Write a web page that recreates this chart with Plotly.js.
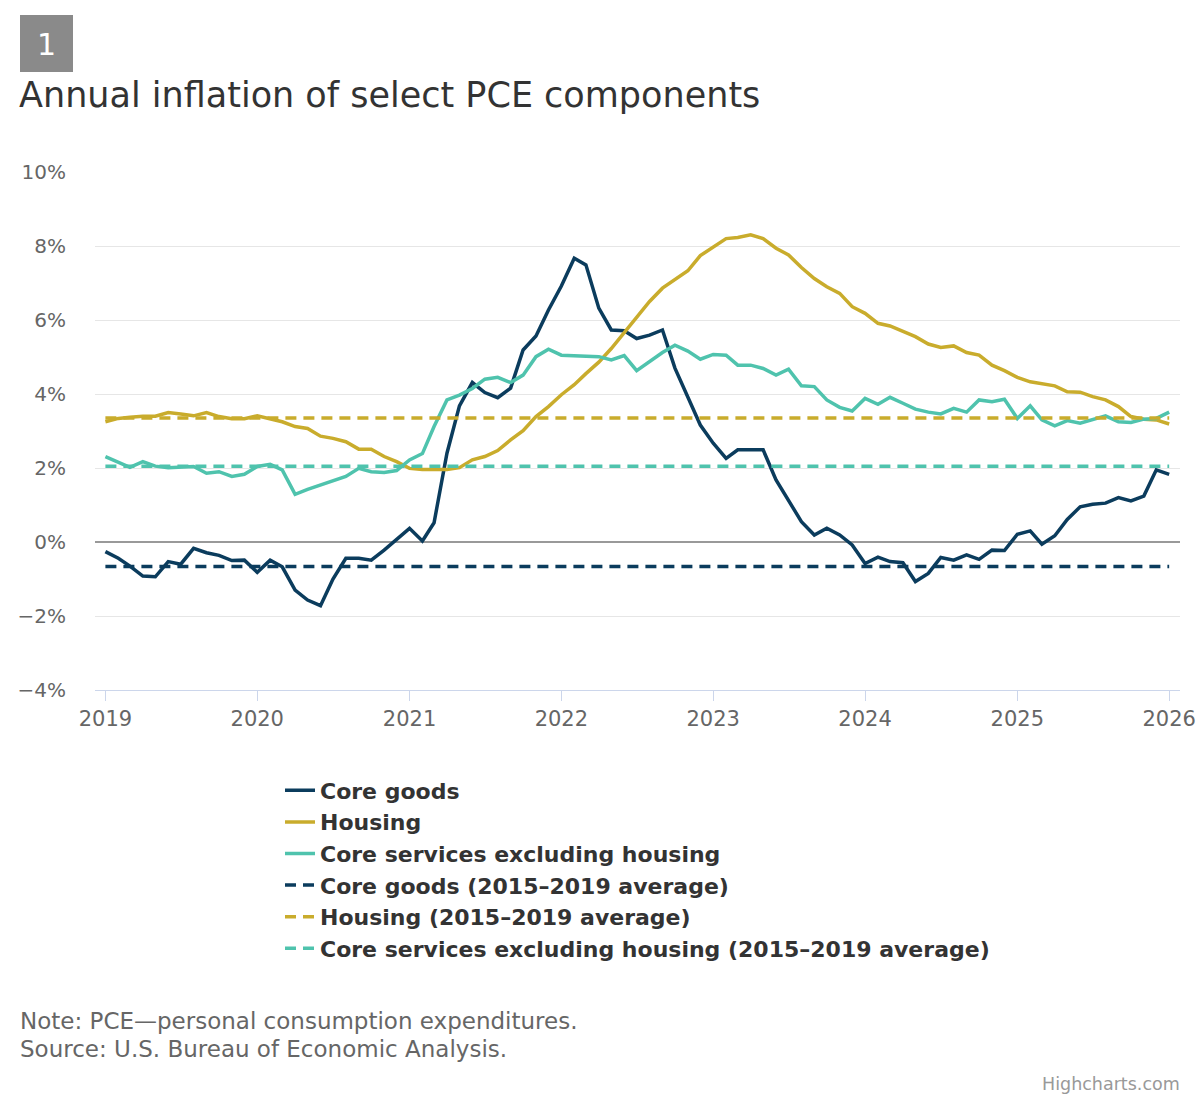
<!DOCTYPE html>
<html>
<head>
<meta charset="utf-8">
<script src="https://cdn.plot.ly/plotly-3.0.1.min.js"></script>
<style>html,body{margin:0;padding:0;background:#fff;}#chart{width:1200px;height:1100px;}</style>
</head>
<body>
<div id="chart"></div>
<script>
// Monthly observations, Jan 2019 – Jan 2026
const startYear = 2019;
const monthCount = 85;
const months = [];
for (let i = 0; i < monthCount; i++) {
  const y = startYear + Math.floor(i / 12);
  const m = (i % 12) + 1;
  months.push(y + '-' + (m < 10 ? '0' + m : m) + '-01');
}

const coreGoods = [
  -0.26, -0.44, -0.65, -0.92, -0.94, -0.53, -0.60, -0.17, -0.29, -0.36, -0.50, -0.49,
  -0.82, -0.49, -0.67, -1.30, -1.57, -1.72, -1.00, -0.44, -0.44, -0.49, -0.22, 0.07,
  0.37, 0.03, 0.52, 2.40, 3.68, 4.31, 4.04, 3.90, 4.16, 5.19, 5.57, 6.27,
  6.92, 7.67, 7.49, 6.32, 5.73, 5.71, 5.50, 5.59, 5.73, 4.70, 3.89, 3.16,
  2.67, 2.26, 2.49, 2.49, 2.49, 1.68, 1.14, 0.55, 0.19, 0.37, 0.19, -0.08,
  -0.58, -0.41, -0.53, -0.56, -1.07, -0.85, -0.42, -0.49, -0.35, -0.47, -0.22, -0.23,
  0.21, 0.30, -0.06, 0.17, 0.61, 0.95, 1.02, 1.05, 1.20, 1.11, 1.24, 1.95,
  1.83
];

const housing = [
  3.25, 3.34, 3.37, 3.40, 3.40, 3.50, 3.46, 3.41, 3.50, 3.39, 3.33, 3.33,
  3.41, 3.32, 3.25, 3.12, 3.07, 2.86, 2.80, 2.71, 2.51, 2.51, 2.31, 2.17,
  1.99, 1.96, 1.95, 1.96, 2.01, 2.22, 2.31, 2.47, 2.76, 3.01, 3.39, 3.66,
  3.98, 4.25, 4.55, 4.86, 5.23, 5.66, 6.09, 6.50, 6.86, 7.08, 7.33, 7.74,
  7.98, 8.20, 8.23, 8.30, 8.20, 7.94, 7.76, 7.42, 7.12, 6.90, 6.72, 6.36,
  6.18, 5.91, 5.84, 5.68, 5.55, 5.35, 5.26, 5.30, 5.12, 5.05, 4.78, 4.63,
  4.45, 4.33, 4.27, 4.22, 4.06, 4.05, 3.93, 3.84, 3.66, 3.39, 3.32, 3.30,
  3.19
];

const coreServicesExHousing = [
  2.31, 2.17, 2.02, 2.17, 2.05, 2.01, 2.02, 2.04, 1.86, 1.90, 1.77, 1.83,
  2.04, 2.10, 1.95, 1.29, 1.42, 1.54, 1.66, 1.77, 1.99, 1.90, 1.88, 1.93,
  2.22, 2.39, 3.12, 3.84, 3.97, 4.15, 4.40, 4.45, 4.31, 4.51, 5.01, 5.21,
  5.05, 5.04, 5.01, 5.01, 4.92, 5.04, 4.63, 4.87, 5.12, 5.32, 5.16, 4.94,
  5.07, 5.05, 4.78, 4.78, 4.69, 4.51, 4.67, 4.22, 4.20, 3.84, 3.64, 3.54,
  3.88, 3.72, 3.91, 3.75, 3.59, 3.51, 3.46, 3.61, 3.51, 3.84, 3.79, 3.86,
  3.34, 3.68, 3.30, 3.14, 3.28, 3.21, 3.30, 3.41, 3.25, 3.23, 3.32, 3.34,
  3.51
];

// 2015–2019 averages
const coreGoodsAvg = -0.66;
const housingAvg = 3.35;
const coreServicesAvg = 2.05;

const seriesNames = [
  'Core goods',
  'Housing',
  'Core services excluding housing',
  'Core goods (2015–2019 average)',
  'Housing (2015–2019 average)',
  'Core services excluding housing (2015–2019 average)'
];

const yTickVals = [-4, -2, 0, 2, 4, 6, 8, 10];
const yTickText = ['−4%', '−2%', '0%', '2%', '4%', '6%', '8%', '10%'];

const cNavy = '#0b3c5d';
const cGold = '#c9ac2c';
const cTeal = '#4fc3ad';

const avgX = [months[0], months[months.length - 1]];

const traces = [
  {x: months, y: coreGoods, name: seriesNames[0], mode: 'lines', line: {color: cNavy, width: 3.5}},
  {x: months, y: housing, name: seriesNames[1], mode: 'lines', line: {color: cGold, width: 3.5}},
  {x: months, y: coreServicesExHousing, name: seriesNames[2], mode: 'lines', line: {color: cTeal, width: 3.5}},
  {x: avgX, y: [coreGoodsAvg, coreGoodsAvg], name: seriesNames[3], mode: 'lines', line: {color: cNavy, width: 3.5, dash: '11px,7px'}},
  {x: avgX, y: [housingAvg, housingAvg], name: seriesNames[4], mode: 'lines', line: {color: cGold, width: 3.5, dash: '11px,7px'}},
  {x: avgX, y: [coreServicesAvg, coreServicesAvg], name: seriesNames[5], mode: 'lines', line: {color: cTeal, width: 3.5, dash: '11px,7px'}}
];

// pixel helpers for paper coordinates (plot: x 95..1180, y 172..690)
const PL = 95, PR = 1180, PT = 172, PB = 690;
const px = v => (v - PL) / (PR - PL);
const py = v => (PB - v) / (PB - PT);

const font = '"DejaVu Sans", "Open Sans", sans-serif';

const layout = {
  width: 1200,
  height: 1100,
  margin: {l: PL, r: 1200 - PR, t: PT, b: 1100 - PB, pad: 0},
  paper_bgcolor: '#ffffff',
  plot_bgcolor: '#ffffff',
  font: {family: font, color: '#333333'},
  title: {
    text: 'Annual inflation of select PCE components',
    x: 19 / 1200, xanchor: 'left', xref: 'container',
    y: 1 - 95 / 1100, yanchor: 'middle', yref: 'container',
    font: {family: font, size: 35, color: '#333333'}
  },
  showlegend: true,
  legend: {
    x: px(280), xanchor: 'left',
    y: py(769.5), yanchor: 'top',
    orientation: 'v',
    font: {family: font, size: 22, color: '#333333', weight: 'bold'},
    bgcolor: 'rgba(0,0,0,0)',
    itemwidth: 30,
    tracegroupgap: 0
  },
  xaxis: {
    type: 'date',
    range: ['2018-12-07', '2026-01-27'],
    tick0: '2019-01-01',
    dtick: 'M12',
    tickformat: '%Y',
    showgrid: false,
    zeroline: false,
    showline: true,
    linecolor: '#ccd6eb',
    linewidth: 1,
    ticks: 'outside',
    ticklen: 10,
    tickcolor: '#ccd6eb',
    tickfont: {family: font, size: 21, color: '#666666'},
    fixedrange: true
  },
  yaxis: {
    range: [-4, 10],
    tickvals: yTickVals,
    ticktext: yTickText,
    showgrid: true,
    gridcolor: '#e6e6e6',
    gridwidth: 1,
    zeroline: true,
    zerolinecolor: '#999999',
    zerolinewidth: 2,
    showline: false,
    ticks: '',
    ticklabelstandoff: 28,
    tickfont: {family: font, size: 20, color: '#666666'},
    fixedrange: true
  },
  shapes: [
    {type: 'rect', xref: 'paper', yref: 'paper', x0: px(20), x1: px(73), y0: py(72), y1: py(15),
     fillcolor: '#8a8a8a', line: {width: 0}, layer: 'above'}
  ],
  annotations: [
    {text: '1', xref: 'paper', yref: 'paper', x: px(46.5), y: py(44), xanchor: 'center', yanchor: 'middle',
     showarrow: false, font: {family: font, size: 30, color: '#ffffff'}},
    {text: 'Note: PCE—personal consumption expenditures.', xref: 'paper', yref: 'paper', x: px(18), y: py(1021),
     xanchor: 'left', yanchor: 'middle', showarrow: false, font: {family: font, size: 23, color: '#666666'}},
    {text: 'Source: U.S. Bureau of Economic Analysis.', xref: 'paper', yref: 'paper', x: px(18), y: py(1049),
     xanchor: 'left', yanchor: 'middle', showarrow: false, font: {family: font, size: 23, color: '#666666'}},
    {text: 'Highcharts.com', xref: 'paper', yref: 'paper', x: px(1182), y: py(1084),
     xanchor: 'right', yanchor: 'middle', showarrow: false, font: {family: font, size: 17.5, color: '#999999'}}
  ]
};

Plotly.newPlot('chart', traces, layout, {displayModeBar: false, staticPlot: true});
</script>
</body>
</html>
